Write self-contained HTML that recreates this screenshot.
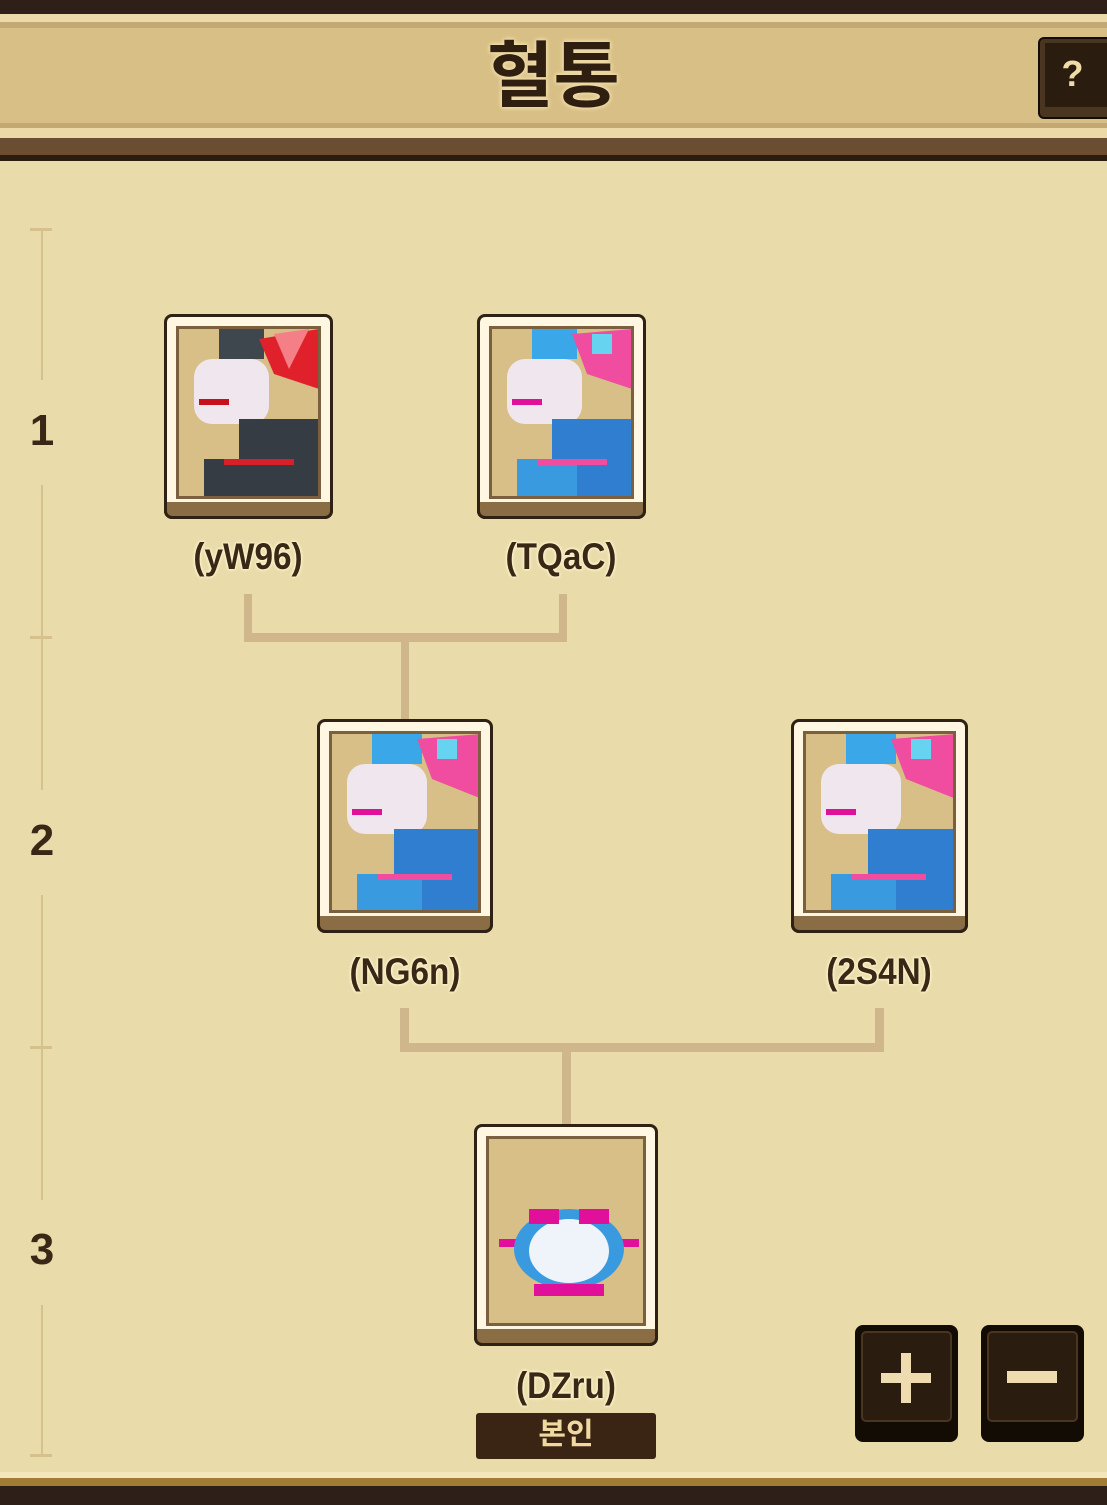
<!DOCTYPE html>
<html><head><meta charset="utf-8"><style>
body{margin:0;width:1107px;height:1505px;position:relative;overflow:hidden;background:#eadcaa;font-family:"Liberation Sans","Noto Sans CJK KR",sans-serif}
.a{position:absolute}
.card{position:absolute;border:3px solid #2f2113;border-radius:8px;background:#fff7e2;box-sizing:border-box}
.card .bot{position:absolute;left:-3px;right:-3px;bottom:-3px;height:14px;background:#8a6c45;border:3px solid #2f2113;border-top:none;border-radius:0 0 8px 8px}
.card .pic{position:absolute;left:9px;top:9px;right:9px;bottom:17px;background:#d7bf87;border:3px solid #7b6040;overflow:hidden}
.lbl{position:absolute;font-weight:bold;font-size:37px;color:#3a2816;text-align:center;width:240px;text-shadow:0 0 3px #fff5d0,0 0 3px #fff5d0,0 0 4px #fff5d0;transform:scaleX(0.9)}
.ln{position:absolute;background:#cfb68b}
.ax{position:absolute;background:#d8c08c}
.num{position:absolute;left:22px;width:40px;text-align:center;font-weight:bold;font-size:44px;color:#3a2816}
.btn{position:absolute;width:103px;height:117px;background:#130c05;border-radius:8px}
.btn div{position:absolute;left:6px;top:6px;right:6px;bottom:20px;background:#2a1d10;border:2px solid #4a3520;border-radius:5px}
</style></head><body>
<div class="a" style="left:0;top:0;width:1107px;height:14px;background:#2e2018"></div>
<div class="a" style="left:0;top:14px;width:1107px;height:13px;background:#ecd9a8"></div>
<div class="a" style="left:0;top:22px;width:1107px;height:6px;background:#c4a874"></div>
<div class="a" style="left:0;top:28px;width:1107px;height:97px;background:#d7bf86"></div>
<div class="a" style="left:0;top:123px;width:1107px;height:5px;background:#c4a874"></div>
<div class="a" style="left:0;top:128px;width:1107px;height:10px;background:#ecd9a8"></div>
<div class="a" style="left:0;top:138px;width:1107px;height:17px;background:#6b4e32"></div>
<div class="a" style="left:0;top:155px;width:1107px;height:6px;background:#2b1c10"></div>
<div class="a" style="left:0;top:36px;width:1107px;text-align:center;font-weight:bold;font-size:72px;color:#2e1f10;text-shadow:0 0 4px #f0dca8,0 0 4px #f0dca8,0 0 6px #f0dca8;line-height:82px">혈통</div>
<div class="a" style="left:1038px;top:37px;width:75px;height:78px;background:#4a3520;border:2px solid #140d06;border-radius:6px"><div style="position:absolute;left:5px;top:4px;right:5px;bottom:10px;background:#2a1c0f;color:#f0dca8;font-weight:bold;font-size:36px;text-align:center;line-height:62px;padding-right:10px">?</div></div>

<div class="ax" style="left:41px;top:230px;width:2px;height:150px"></div>
<div class="ax" style="left:41px;top:485px;width:2px;height:305px"></div>
<div class="ax" style="left:41px;top:895px;width:2px;height:305px"></div>
<div class="ax" style="left:41px;top:1305px;width:2px;height:150px"></div>
<div class="ax" style="left:30px;top:228px;width:22px;height:3px"></div>
<div class="ax" style="left:30px;top:636px;width:22px;height:3px"></div>
<div class="ax" style="left:30px;top:1046px;width:22px;height:3px"></div>
<div class="ax" style="left:30px;top:1454px;width:22px;height:3px"></div>
<div class="num" style="top:406px">1</div>
<div class="num" style="top:816px">2</div>
<div class="num" style="top:1225px">3</div>

<div class="ln" style="left:244px;top:594px;width:8px;height:48px"></div>
<div class="ln" style="left:559px;top:594px;width:8px;height:48px"></div>
<div class="ln" style="left:244px;top:633px;width:323px;height:9px"></div>
<div class="ln" style="left:401px;top:640px;width:8px;height:80px"></div>
<div class="ln" style="left:400px;top:1008px;width:9px;height:44px"></div>
<div class="ln" style="left:875px;top:1008px;width:9px;height:44px"></div>
<div class="ln" style="left:400px;top:1043px;width:484px;height:9px"></div>
<div class="ln" style="left:562px;top:1050px;width:9px;height:75px"></div>

<div class="card" style="left:164px;top:314px;width:169px;height:205px"><div class="bot"></div><div class="pic">
<svg width="145" height="170" viewBox="0 0 145 170"><rect x="40" y="0" width="45" height="30" fill="#3e464e"/><polygon points="80,10 140,0 140,60 95,45" fill="#e0202a"/><polygon points="95,5 130,0 110,40" fill="#f47f86"/><rect x="15" y="30" width="75" height="65" rx="18" fill="#f0e6ee"/><rect x="20" y="70" width="30" height="6" fill="#c8101c"/><rect x="60" y="90" width="85" height="80" fill="#363c44"/><rect x="25" y="130" width="60" height="40" fill="#363c44"/><rect x="45" y="130" width="70" height="6" fill="#d8202a"/></svg></div></div>
<div class="card" style="left:477px;top:314px;width:169px;height:205px"><div class="bot"></div><div class="pic">
<svg width="145" height="170" viewBox="0 0 145 170"><rect x="40" y="0" width="45" height="30" fill="#3aa8e8"/><polygon points="80,5 140,0 140,60 95,45" fill="#f04ca0"/><rect x="100" y="5" width="20" height="20" fill="#66d4f0"/><rect x="15" y="30" width="75" height="65" rx="18" fill="#f0e6ee"/><rect x="20" y="70" width="30" height="6" fill="#e0109a"/><rect x="60" y="90" width="85" height="80" fill="#2f7ed0"/><rect x="25" y="130" width="60" height="40" fill="#3a9ae0"/><rect x="45" y="130" width="70" height="6" fill="#f04ca0"/></svg></div></div>
<div class="card" style="left:317px;top:719px;width:176px;height:214px"><div class="bot"></div><div class="pic">
<svg width="152" height="180" viewBox="0 0 152 180"><rect x="40" y="0" width="50" height="30" fill="#3aa8e8"/><polygon points="85,5 150,0 150,65 100,45" fill="#f04ca0"/><rect x="105" y="5" width="20" height="20" fill="#66d4f0"/><rect x="15" y="30" width="80" height="70" rx="18" fill="#f0e6ee"/><rect x="20" y="75" width="30" height="6" fill="#e0109a"/><rect x="62" y="95" width="90" height="85" fill="#2f7ed0"/><rect x="25" y="140" width="65" height="40" fill="#3a9ae0"/><rect x="45" y="140" width="75" height="6" fill="#f04ca0"/></svg></div></div>
<div class="card" style="left:791px;top:719px;width:177px;height:214px"><div class="bot"></div><div class="pic">
<svg width="152" height="180" viewBox="0 0 152 180"><rect x="40" y="0" width="50" height="30" fill="#3aa8e8"/><polygon points="85,5 150,0 150,65 100,45" fill="#f04ca0"/><rect x="105" y="5" width="20" height="20" fill="#66d4f0"/><rect x="15" y="30" width="80" height="70" rx="18" fill="#f0e6ee"/><rect x="20" y="75" width="30" height="6" fill="#e0109a"/><rect x="62" y="95" width="90" height="85" fill="#2f7ed0"/><rect x="25" y="140" width="65" height="40" fill="#3a9ae0"/><rect x="45" y="140" width="75" height="6" fill="#f04ca0"/></svg></div></div>
<div class="card" style="left:474px;top:1124px;width:184px;height:222px"><div class="bot"></div><div class="pic">
<svg width="160" height="188" viewBox="0 0 160 188"><rect x="10" y="100" width="140" height="8" fill="#e0109a"/><ellipse cx="80" cy="110" rx="55" ry="40" fill="#3a9ae0"/><ellipse cx="80" cy="112" rx="40" ry="32" fill="#eef4fa"/><rect x="40" y="70" width="30" height="15" fill="#e0109a"/><rect x="90" y="70" width="30" height="15" fill="#e0109a"/><rect x="45" y="145" width="70" height="12" fill="#e0109a"/></svg></div></div>

<div class="lbl" style="left:128px;top:536px">(yW96)</div>
<div class="lbl" style="left:441px;top:536px">(TQaC)</div>
<div class="lbl" style="left:285px;top:951px">(NG6n)</div>
<div class="lbl" style="left:759px;top:951px">(2S4N)</div>
<div class="lbl" style="left:446px;top:1365px">(DZru)</div>
<div class="a" style="left:476px;top:1413px;width:180px;height:46px;background:#3a2413;border-radius:3px;color:#f0d9a0;font-weight:bold;font-size:30px;text-align:center;line-height:44px">본인</div>

<div class="btn" style="left:855px;top:1325px"><div></div><span class="a" style="left:26px;top:48px;width:50px;height:10px;background:#eedcb0"></span><span class="a" style="left:46px;top:28px;width:10px;height:50px;background:#eedcb0"></span></div>
<div class="btn" style="left:981px;top:1325px"><div></div><span class="a" style="left:26px;top:46px;width:50px;height:12px;background:#eedcb0"></span></div>

<div class="a" style="left:0;top:1472px;width:1107px;height:6px;background:#f3e6bd"></div>
<div class="a" style="left:0;top:1478px;width:1107px;height:8px;background:#a07c35"></div>
<div class="a" style="left:0;top:1486px;width:1107px;height:19px;background:#2e2018"></div>
</body></html>
